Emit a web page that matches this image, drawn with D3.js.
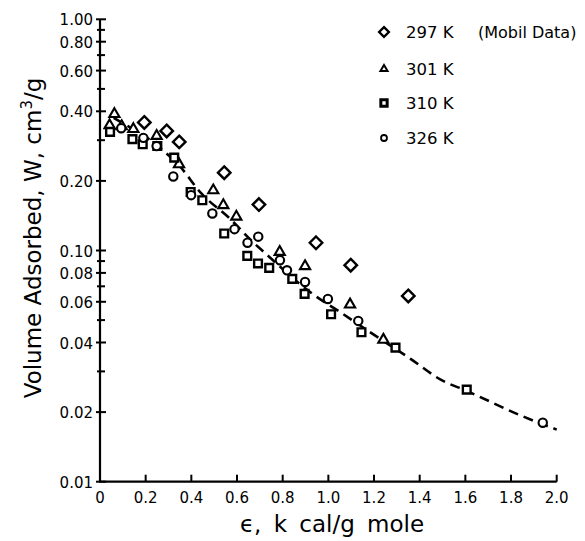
<!DOCTYPE html>
<html><head><meta charset="utf-8">
<script src="https://cdn.jsdelivr.net/npm/d3@7"></script>
<style>body{margin:0;background:#fff}svg{display:block}text{font-family:"DejaVu Sans",sans-serif;fill:#000}</style>
</head><body><svg id="c" width="585" height="541"></svg>
<script>
// Series data: [energy (kcal/g mole), volume adsorbed W (cm3/g)]
const series297 = [[0.194,0.358],[0.292,0.329],[0.347,0.295],[0.544,0.217],[0.696,0.158],[0.946,0.108],[1.098,0.0864],[1.350,0.0636]];
const series301 = [[0.063,0.389],[0.042,0.348],[0.095,0.345],[0.146,0.335],[0.248,0.313],[0.346,0.236],[0.496,0.182],[0.540,0.157],[0.597,0.140],[0.787,0.0986],[0.898,0.0855],[1.095,0.0584],[1.241,0.0411]];
const series310 = [[0.044,0.326],[0.142,0.303],[0.187,0.288],[0.251,0.283],[0.325,0.252],[0.397,0.179],[0.448,0.165],[0.544,0.1185],[0.645,0.0948],[0.692,0.0879],[0.741,0.0841],[0.842,0.0754],[0.896,0.0649],[1.012,0.053],[1.145,0.0443],[1.294,0.038],[1.606,0.025]];
const series326 = [[0.093,0.338],[0.190,0.307],[0.248,0.283],[0.321,0.209],[0.399,0.1735],[0.492,0.1446],[0.589,0.1237],[0.646,0.1081],[0.693,0.1148],[0.788,0.0908],[0.819,0.0821],[0.898,0.0731],[0.998,0.0617],[1.131,0.0496],[1.939,0.018]];
const fitCurve = [[0.06,0.375],[0.1,0.355],[0.2,0.31],[0.3,0.258],[0.34,0.237],[0.445,0.176],[0.57,0.137],[0.66,0.111],[0.72,0.098],[0.93,0.065],[1.06,0.0535],[1.18,0.0445],[1.36,0.034],[1.49,0.0277],[1.61,0.0246],[1.85,0.0192],[2.0,0.0168]];
const xTicks = [0,0.2,0.4,0.6,0.8,1.0,1.2,1.4,1.6,1.8,2.0];
const xTickLabels = ["0","0.2","0.4","0.6","0.8","1.0","1.2","1.4","1.6","1.8","2.0"];
const yTicks = [1.0,0.8,0.6,0.4,0.2,0.1,0.08,0.06,0.04,0.02,0.01];
const yTickLabels = ["1.00","0.80","0.60","0.40","0.20","0.10","0.08","0.06","0.04","0.02","0.01"];
const yMinorTicks = [0.9,0.7,0.5,0.3,0.09,0.07,0.05,0.03];
const legendLabels = ["297 K","301 K","310 K","326 K"];

const svg = d3.select("#c");
const x = d3.scaleLinear().domain([0,2]).range([100,556.7]);
const y = d3.scaleLog().domain([0.01,1]).range([481.7,19.3]);

// axes
const g = svg.append("g");
g.append("line").attr("x1",100).attr("x2",100).attr("y1",y(1)).attr("y2",y(0.01)).attr("stroke","#000").attr("stroke-width",2.2);
g.append("line").attr("x1",99).attr("x2",x(2)).attr("y1",y(0.01)).attr("y2",y(0.01)).attr("stroke","#000").attr("stroke-width",2.2);

xTicks.forEach((t,i)=>{
  g.append("line").attr("x1",x(t)).attr("x2",x(t)).attr("y1",y(0.01)).attr("y2",y(0.01)-7).attr("stroke","#000").attr("stroke-width",2);
  g.append("text").attr("x",x(t)).attr("y",y(0.01)+21).attr("text-anchor","middle").attr("font-size",15).text(xTickLabels[i]);
});
yTicks.forEach((t,i)=>{
  g.append("line").attr("x1",96).attr("x2",106).attr("y1",y(t)).attr("y2",y(t)).attr("stroke","#000").attr("stroke-width",2);
  g.append("text").attr("x",93).attr("y",y(t)+6).attr("text-anchor","end").attr("font-size",15).text(yTickLabels[i]);
});
yMinorTicks.forEach(t=>{
  g.append("line").attr("x1",97).attr("x2",105).attr("y1",y(t)).attr("y2",y(t)).attr("stroke","#000").attr("stroke-width",2);
});

// axis titles
svg.append("text").attr("x",332).attr("y",532).attr("text-anchor","middle").attr("font-size",23).attr("word-spacing",5).text("ϵ,  k cal/g mole");
const yt = svg.append("text").attr("transform","translate(41,238) rotate(-90)").attr("text-anchor","middle").attr("font-size",23);
yt.append("tspan").text("Volume Adsorbed, W, cm");
yt.append("tspan").attr("dy",-9).attr("font-size",15).text("3");
yt.append("tspan").attr("dy",9).text("/g");

// fit curve
const line = d3.line().x(d=>x(d[0])).y(d=>y(d[1])).curve(d3.curveMonotoneX);
svg.append("path").datum(fitCurve).attr("d",line).attr("fill","none").attr("stroke","#000").attr("stroke-width",2.6).attr("stroke-dasharray","10,6");

// markers
const sym = (type,size)=>d3.symbol().type(type).size(size)();
function plot(data,type,size,sw){
  svg.append("g").selectAll("path").data(data).join("path")
    .attr("transform",d=>`translate(${x(d[0])},${y(d[1])})`)
    .attr("d",sym(type,size)).attr("fill","#fff").attr("stroke","#000").attr("stroke-width",sw);
}
plot(series297,d3.symbolDiamond2,100,2.4);
plot(series301,d3.symbolTriangle,45,2.1);
plot(series310,d3.symbolSquare,60,2.4);
plot(series326,d3.symbolCircle,55,2.1);

// legend
const legTypes = [[d3.symbolDiamond2,60,2.4],[d3.symbolTriangle,22,2],[d3.symbolSquare,40,3],[d3.symbolCircle,28,1.8]];
const legY = [32,69,103,138];
legTypes.forEach((lt,i)=>{
  svg.append("path").attr("transform",`translate(384,${legY[i]})`).attr("d",sym(lt[0],lt[1])).attr("fill","#fff").attr("stroke","#000").attr("stroke-width",lt[2]);
  svg.append("text").attr("x",406).attr("y",legY[i]+6).attr("font-size",16.5).text(legendLabels[i]);
});
svg.append("text").attr("x",478).attr("y",legY[0]+6).attr("font-size",16).text("(Mobil Data)");
</script></body></html>
